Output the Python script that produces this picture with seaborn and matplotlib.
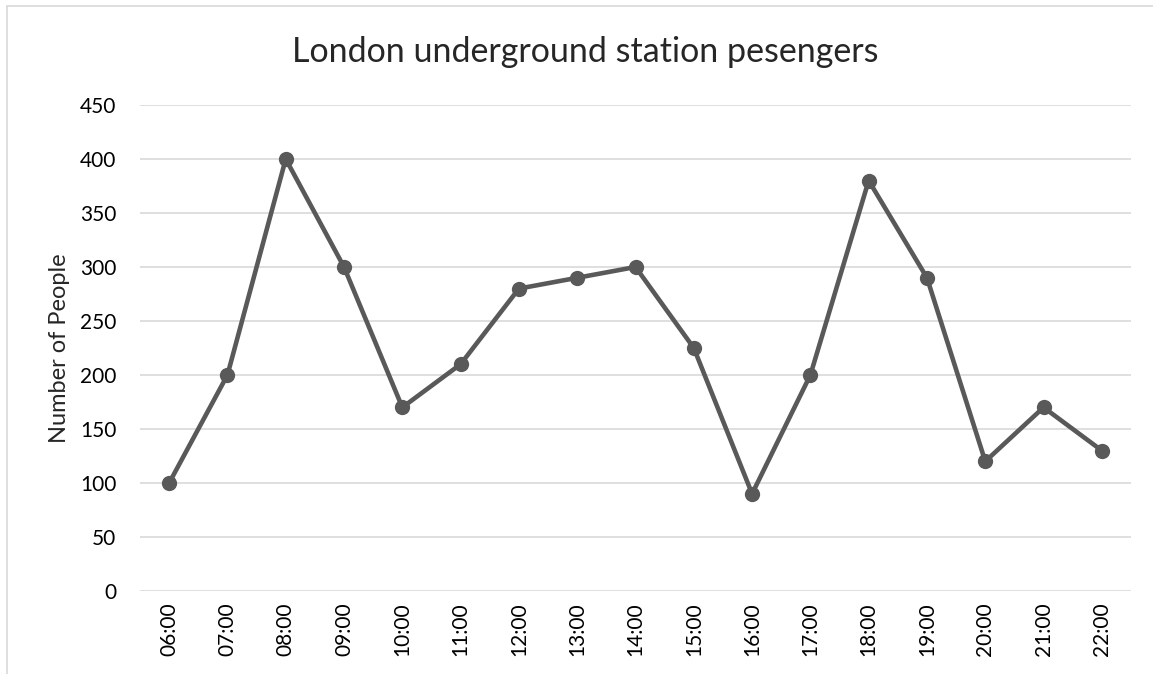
import pandas as pd
import matplotlib
matplotlib.use('Agg')
import matplotlib.pyplot as plt
from matplotlib.lines import Line2D
import seaborn as sns

# data
hours = ['06:00', '07:00', '08:00', '09:00', '10:00', '11:00', '12:00', '13:00', '14:00',
         '15:00', '16:00', '17:00', '18:00', '19:00', '20:00', '21:00', '22:00']
people = [100, 200, 400, 300, 170, 210, 280, 290, 300, 225, 90, 200, 380, 290, 120, 170, 130]
y_ticks = [0, 50, 100, 150, 200, 250, 300, 350, 400, 450]

df = pd.DataFrame({'Hour': hours, 'People': people})

sns.set_style('white')
plt.rcParams['font.family'] = ['Lato', 'DejaVu Sans']

fig = plt.figure(figsize=(11.53, 6.74), dpi=100)
ax = fig.add_axes([140 / 1153, 1 - 591 / 674, (1131 - 140) / 1153, (591 - 105) / 674])

sns.lineplot(data=df, x='Hour', y='People', sort=False, ax=ax, color='#595959',
             linewidth=3.3, marker='o', markersize=11, markeredgewidth=0)

ax.set_xlim(-0.5, len(hours) - 0.5)
ax.set_ylim(0, 450)
ax.set_yticks(y_ticks)
ax.set_xticks(range(len(hours)))
ax.set_xticklabels(hours, rotation=90)
ax.grid(axis='y', color='#d9d9d9', linewidth=1.2)
ax.set_axisbelow(True)
for s in ax.spines.values():
    s.set_visible(False)
ax.tick_params(axis='both', length=0, labelsize=15, colors='#000000')
ax.tick_params(axis='x', pad=8)
ax.tick_params(axis='y', pad=17)
ax.set_xlabel('')
ax.set_ylabel('Number of People', fontsize=17, labelpad=7)
fig.text(585 / 1153, 1 - 52 / 674, 'London underground station pesengers',
         ha='center', va='center', fontsize=24.5)

# chart border (top and left edge visible)
fig.add_artist(Line2D([7 / 1153, 1], [1 - 6 / 674, 1 - 6 / 674], color='#d9d9d9', lw=1.2))
fig.add_artist(Line2D([7 / 1153, 7 / 1153], [0, 1 - 6 / 674], color='#d9d9d9', lw=1.2))

fig.savefig('out.png', dpi=100)
